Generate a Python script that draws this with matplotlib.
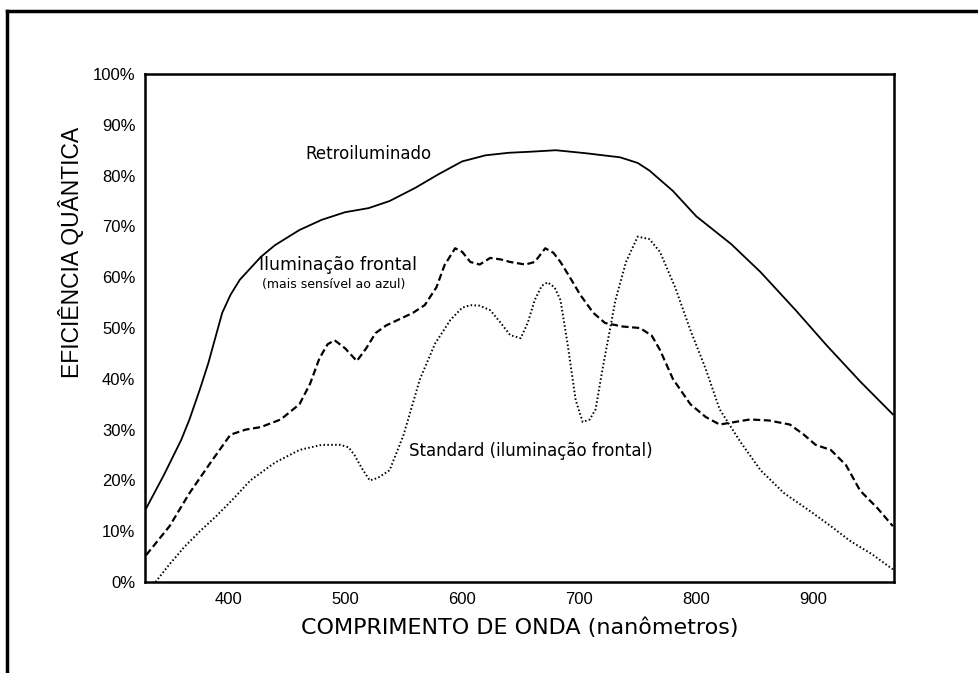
import matplotlib.pyplot as plt
from matplotlib.lines import Line2D
from matplotlib.ticker import FuncFormatter

# comprimento de onda (nm) e eficiencia quantica (%)
retro_nm = [330, 345, 360, 367, 376, 383, 389, 395, 402, 410, 420, 428, 440, 461, 480,
            500, 520, 538, 560, 580, 600, 620, 640, 658, 680, 706, 735, 750, 760, 780,
            800, 830, 855, 885, 911, 940, 968]
retro_ef = [14.5, 21, 28, 32, 38, 43, 48, 53, 56.5, 59.5, 62, 64, 66.3, 69.3, 71.3,
            72.8, 73.6, 75, 77.6, 80.3, 82.8, 84, 84.5, 84.7, 85, 84.4, 83.6, 82.5, 81, 77,
            72, 66.5, 61, 53.5, 46.7, 39.5, 33]

frontal_nm = [330, 350, 367, 385, 402, 415, 428, 445, 461, 470, 478, 485, 491, 500, 510,
              518, 526, 535, 547, 558, 568, 578, 585, 594, 600, 607, 615, 624, 633, 641,
              654, 662, 671, 678, 684, 692, 701, 712, 722, 737, 752, 762, 769, 780, 795,
              808, 820, 833, 846, 862, 880, 892, 902, 915, 928, 940, 955, 968]
frontal_ef = [5.3, 11, 17.5, 23.5, 29, 30, 30.5, 32, 35, 39, 44, 46.8, 47.6, 46, 43.5,
              46, 49, 50.5, 51.8, 53, 54.5, 58, 62.4, 65.7, 65, 63, 62.5, 63.8, 63.5, 63,
              62.5, 63, 65.7, 64.8, 63, 60, 56.5, 53, 51, 50.3, 50, 48.5, 45.7, 40, 35,
              32.5, 31, 31.5, 32, 31.8, 31, 29, 27, 26, 23, 18, 14.5, 11]

standard_nm = [338, 350, 363, 376, 390, 405, 419, 440, 461, 480, 496, 503, 508, 514, 521,
               528, 538, 550, 564, 577, 590, 600, 607, 615, 624, 633, 641, 650, 656, 662,
               668, 673, 679, 684, 690, 697, 703, 709, 714, 720, 731, 740, 750, 760, 769,
               782, 795, 808, 820, 838, 855, 875, 897, 915, 932, 950, 968]
standard_ef = [0, 3.5, 7, 10, 13, 16.5, 20, 23.5, 26, 27, 27, 26.5, 25, 22.5, 20,
               20.5, 22, 29, 40, 47, 51.6, 54, 54.5, 54.4, 53.5, 51, 48.6, 48, 51, 55.5,
               58.3, 59, 58, 55.5, 47, 35.8, 31.5, 32, 34, 42, 55.5, 63, 68, 67.5, 65,
               58, 49.6, 42, 34, 27.5, 22, 17.5, 14, 11, 8, 5.5, 2.5]

x_ticks = [400, 500, 600, 700, 800, 900]
y_ticks = [0, 10, 20, 30, 40, 50, 60, 70, 80, 90, 100]

fig = plt.figure(figsize=(9.79, 6.73), dpi=100)
ax = fig.add_axes([0.1481, 0.1352, 0.7651, 0.7548])

ax.plot(retro_nm, retro_ef, color='black', lw=1.3, ls='-')
ax.plot(frontal_nm, frontal_ef, color='black', lw=1.6, ls=(0, (3.2, 1.6)))
ax.plot(standard_nm, standard_ef, color='black', lw=1.4, ls=(0, (0.8, 1.2)))

ax.set_xlim(329, 969)
ax.set_ylim(0, 100)
ax.set_xticks(x_ticks)
ax.set_yticks(y_ticks)
ax.yaxis.set_major_formatter(FuncFormatter(lambda v, p: '%d%%' % v))
ax.tick_params(length=0, pad=7, labelsize=12, labelcolor='black')
for lab in ax.get_xticklabels() + ax.get_yticklabels():
    lab.set_family('Liberation Sans')
for s in ax.spines.values():
    s.set_linewidth(1.8)

ax.set_xlabel('COMPRIMENTO DE ONDA (nanômetros)', fontsize=16, family='DejaVu Sans',
              labelpad=8)
ax.set_ylabel('EFICIÊNCIA QUÂNTICA', fontsize=16.5, family='Liberation Sans', labelpad=4)
ax.yaxis.set_label_coords(-0.082, 0.648)

# rotulos das curvas
ax.text(466, 84.3, 'Retroiluminado', fontsize=12, va='center')
ax.text(426, 62.5, 'Iluminação frontal', fontsize=12.5, va='center')
ax.text(429, 58.5, '(mais sensível ao azul)', fontsize=9, va='center')
ax.text(555, 25.8, 'Standard (iluminação frontal)', fontsize=12, va='center')

# moldura da figura
fig.add_artist(Line2D([0.0072, 0.0072], [0, 0.9837], color='black', lw=2.5))
fig.add_artist(Line2D([0.0072, 1.0], [0.9837, 0.9837], color='black', lw=2.5))

fig.savefig('out.png', dpi=100)
